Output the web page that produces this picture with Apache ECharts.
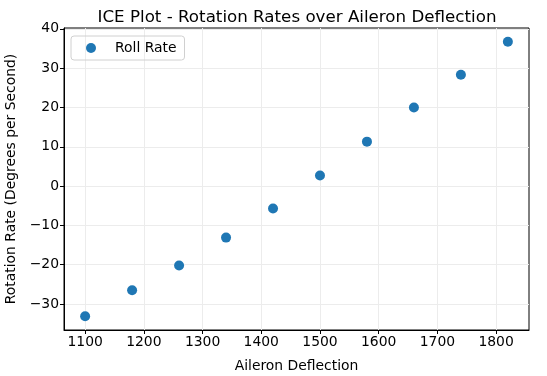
<!DOCTYPE html>
<html><head><meta charset="utf-8">
<script src="https://cdn.jsdelivr.net/npm/echarts@6/dist/echarts.min.js"></script>
<style>html,body{margin:0;padding:0;background:#fff}#c{width:547px;height:376px}</style>
</head><body><div id="c"></div>
<script>
const xValues = [1100, 1180, 1260, 1340, 1420, 1500, 1580, 1660, 1740, 1820];
const rollRate = [-33.1, -26.5, -20.2, -13.1, -5.7, 2.7, 11.3, 20.0, 28.3, 36.7];
const xTicks = [1100, 1200, 1300, 1400, 1500, 1600, 1700, 1800];
const yTicks = [-30, -20, -10, 0, 10, 20, 30, 40];

const font = 'DejaVu Sans';
const chart = echarts.init(document.getElementById('c'), null, {renderer: 'canvas'});
chart.setOption({
  animation: false,
  title: {text: 'ICE Plot - Rotation Rates over Aileron Deflection', left: 292, textAlign: 'center', top: 4,
    textStyle: {fontFamily: font, fontSize: 16.7, fontWeight: 'normal', color: '#000'}},
  legend: {left: 71, top: 36, icon: 'circle', itemWidth: 10, itemHeight: 10,
    borderColor: '#d0d0d0', borderWidth: 1, borderRadius: 3, padding: [5, 8, 5, 15],
    textStyle: {fontFamily: font, fontSize: 13.9, color: '#000', padding: [0, 0, 0, 14]},
    data: ['Roll Rate']},
  grid: {left: 64, right: 18, top: 28, bottom: 46, show: true, borderColor: '#000', borderWidth: 1,
    containLabel: false, outerBoundsMode: 'none'},
  xAxis: {type: 'value', min: 1064, max: 1856,
    name: 'Aileron Deflection', nameLocation: 'middle', nameGap: 29,
    nameTextStyle: {fontFamily: font, fontSize: 13.9, color: '#000'},
    axisLine: {show: true, onZero: false, lineStyle: {color: '#000'}},
    axisTick: {show: true, length: 4, customValues: xTicks, lineStyle: {color: '#000'}},
    axisLabel: {customValues: xTicks, fontFamily: font, fontSize: 13.9, color: '#000', margin: 5,
      formatter: v => String(v)},
    splitLine: {show: true, lineStyle: {color: '#ececec', width: 1}}},
  yAxis: {type: 'value', min: -36.6, max: 40.2,
    name: 'Rotation Rate (Degrees per Second)', nameLocation: 'middle', nameGap: 46,
    nameTextStyle: {fontFamily: font, fontSize: 13.9, color: '#000'},
    axisLine: {show: true, onZero: false, lineStyle: {color: '#000'}},
    axisTick: {show: true, length: 4, customValues: yTicks, lineStyle: {color: '#000'}},
    axisLabel: {customValues: yTicks, fontFamily: font, fontSize: 13.9, color: '#000', margin: 5,
      formatter: v => (v < 0 ? '\u2212' + Math.abs(v) : String(v))},
    splitLine: {show: true, lineStyle: {color: '#ececec', width: 1}}},
  series: [{name: 'Roll Rate', type: 'scatter', symbolSize: 10,
    itemStyle: {color: '#1f77b4', opacity: 1},
    data: xValues.map((x, i) => [x, rollRate[i]])}]
});
</script></body></html>
